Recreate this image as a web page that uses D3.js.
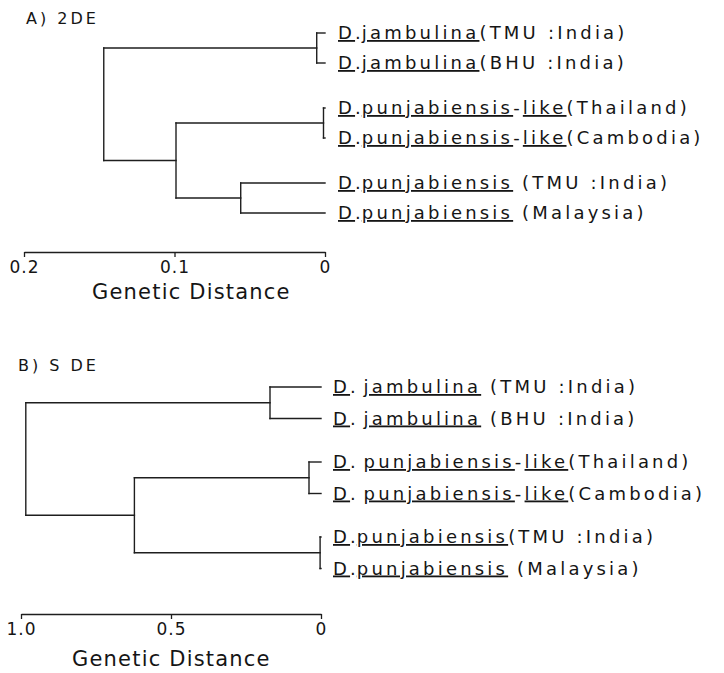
<!DOCTYPE html>
<html>
<head>
<meta charset="utf-8">
<script src="https://cdn.jsdelivr.net/npm/d3@7"></script>
<style>
  body { margin: 0; background: #fff; }
  svg text { font-family: "DejaVu Sans", sans-serif; fill: #151515; }
</style>
</head>
<body>
<svg id="chart" width="724" height="673"></svg>
<script>
// tips, top to bottom
const species = ['jambulina', 'jambulina', 'punjabiensis-like', 'punjabiensis-like', 'punjabiensis', 'punjabiensis'];
const places = ['TMU :India', 'BHU :India', 'Thailand', 'Cambodia', 'TMU :India', 'Malaysia'];

// internal nodes: pairs of child ids (tips are 0-5, joins are 6-10)
const joins = [[0, 1], [2, 3], [4, 5], [7, 8], [6, 9]];

// genetic distance of each join
const heights2DE = [0.0055, 0.001, 0.056, 0.099, 0.147];
const heightsSDE = [0.17, 0.04, 0.003, 0.622, 0.984];

// small spacing quirks of the typed labels
const dotSpace2DE = ['', '', '', '', '', ''];
const dotSpaceSDE = [' ', ' ', ' ', ' ', '', ''];
const parenSpace2DE = ['', '', '', '', ' ', ' '];
const parenSpaceSDE = [' ', ' ', '', '', '', ' '];

const ticks2DE = [0.2, 0.1, 0];
const ticksSDE = [1.0, 0.5, 0];
const tickLabels2DE = ['0.2', '0.1', '0'];
const tickLabelsSDE = ['1.0', '0.5', '0'];

const svg = d3.select('#chart');
const ink = '#1e1e1e';

function drawPanel(cfg) {
  const x = d3.scaleLinear().domain([cfg.ticks[0], 0]).range(cfg.xRange);
  const g = svg.append('g');

  // tips sit in pairs, with an extra gap between pairs
  const group = species.map((s, i) => joins.findIndex(j => j.includes(i)));
  const ys = species.map((s, i) => cfg.top + i * cfg.step + group[i] * cfg.gap);
  const hs = species.map(() => 0);
  joins.forEach((j, k) => {
    ys.push((ys[j[0]] + ys[j[1]]) / 2);
    hs.push(cfg.heights[k]);
  });

  const line = d3.line();
  joins.forEach((j, k) => {
    const n = species.length + k;
    const xn = x(hs[n]);
    g.append('path').attr('d', line([[xn, ys[j[0]]], [xn, ys[j[1]]]]));
    j.forEach(c => {
      g.append('path').attr('d', line([[xn, ys[c]], [x(hs[c]), ys[c]]]));
    });
  });
  g.selectAll('path')
    .attr('fill', 'none')
    .attr('stroke', ink)
    .attr('stroke-width', 1.4)
    .attr('stroke-linecap', 'square');

  // tip labels
  const lab = g.selectAll('text.tip')
    .data(species)
    .join('text')
    .attr('class', 'tip')
    .attr('x', x(0) + cfg.labelGap)
    .attr('y', (d, i) => ys[i] + 6)
    .attr('font-size', 18)
    .attr('letter-spacing', 3.2);

  lab.each(function(d, i) {
    const t = d3.select(this);
    t.append('tspan').attr('text-decoration', 'underline').text('D');
    t.append('tspan').attr('letter-spacing', 1).text('.' + cfg.dotSpace[i]);
    const parts = d.split('-');
    parts.forEach((p, pi) => {
      if (pi > 0) t.append('tspan').text('-');
      t.append('tspan').attr('text-decoration', 'underline').text(p);
    });
    t.append('tspan').text(cfg.parenSpace[i] + '(' + places[i] + ')');
  });

  // distance axis
  const axis = d3.axisBottom(x)
    .tickValues(cfg.ticks)
    .tickFormat((d, i) => cfg.tickLabels[i])
    .tickSize(5)
    .tickSizeOuter(0)
    .tickPadding(4);
  const ag = g.append('g')
    .attr('transform', `translate(0,${cfg.axisY})`)
    .call(axis);
  ag.select('.domain').attr('stroke', ink).attr('stroke-width', 1.4);
  ag.selectAll('.tick line').attr('stroke', ink).attr('stroke-width', 1.3);
  ag.selectAll('.tick text')
    .attr('font-size', 17)
    .attr('letter-spacing', 1)
    .attr('fill', ink);

  g.append('text')
    .attr('x', cfg.nameX)
    .attr('y', cfg.axisY + cfg.nameDy)
    .attr('font-size', 21)
    .attr('letter-spacing', 1.2)
    .text('Genetic Distance');

  g.append('text')
    .attr('x', cfg.titleX)
    .attr('y', cfg.titleY)
    .attr('font-size', 16)
    .attr('letter-spacing', 3)
    .text(cfg.title);
}

drawPanel({
  title: 'A) 2DE', titleX: 26, titleY: 24,
  heights: heights2DE, ticks: ticks2DE, tickLabels: tickLabels2DE,
  dotSpace: dotSpace2DE, parenSpace: parenSpace2DE,
  xRange: [24, 325], top: 33, step: 30, gap: 15, labelGap: 13,
  axisY: 252, nameX: 92, nameDy: 47
});

drawPanel({
  title: 'B) S DE', titleX: 18, titleY: 371,
  heights: heightsSDE, ticks: ticksSDE, tickLabels: tickLabelsSDE,
  dotSpace: dotSpaceSDE, parenSpace: parenSpaceSDE,
  xRange: [21, 321], top: 387, step: 31.5, gap: 12, labelGap: 12,
  axisY: 614, nameX: 72, nameDy: 52
});
</script>
</body>
</html>
